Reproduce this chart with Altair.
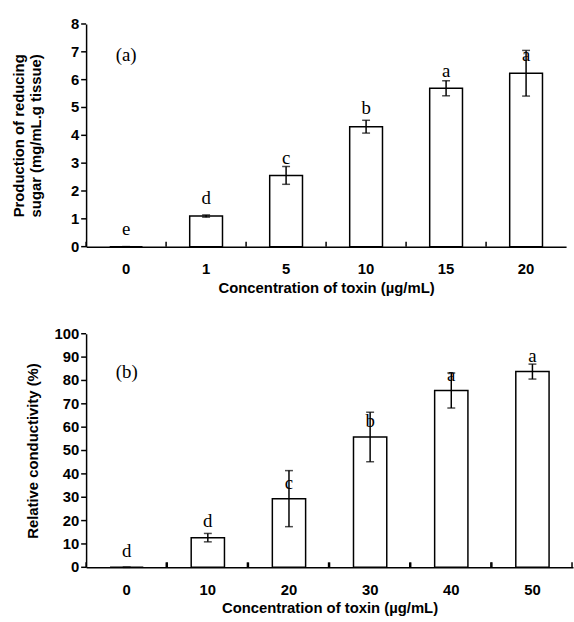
import altair as alt
import pandas as pd

# Panel (a): reducing sugar
conc_a = ["0", "1", "5", "10", "15", "20"]
sugar_mean = [0.0, 1.10, 2.56, 4.31, 5.69, 6.23]
sugar_err = [0.0, 0.04, 0.32, 0.23, 0.27, 0.82]
sugar_letters = ["e", "d", "c", "b", "a", "a"]
sugar_letter_y = [0.64, 1.74, 3.17, 4.98, 6.30, 6.87]
sugar_ticks = [0, 1, 2, 3, 4, 5, 6, 7, 8]

# Panel (b): relative conductivity
conc_b = ["0", "10", "20", "30", "40", "50"]
cond_mean = [0.0, 12.7, 29.4, 55.8, 75.7, 83.8]
cond_err = [0.0, 1.8, 12.0, 10.6, 7.5, 3.2]
cond_letters = ["d", "d", "c", "b", "a", "a"]
cond_letter_y = [7.1, 19.8, 36.0, 62.8, 82.3, 90.4]
cond_ticks = [0, 10, 20, 30, 40, 50, 60, 70, 80, 90, 100]

SANS = "Liberation Sans"
SERIF = "Liberation Serif"


def panel(cats, means, errs, letters, letter_y, yvals, ytitle, tag, tag_y,
          w, h, title_pad, end_tick):
    ymax = yvals[-1]
    df = pd.DataFrame({"conc": cats, "mean": means, "err": errs,
                       "letter": letters, "ly": letter_y})
    df["lo"] = df["mean"] - df["err"]
    df["hi"] = df["mean"] + df["err"]
    df["tag"] = [tag] + [""] * (len(cats) - 1)
    df["tag_y"] = tag_y
    df["zero"] = 0.0
    df["tk"] = ymax * 5.0 / h  # separator tick length (5 px) in data units
    tdf = pd.DataFrame({"v": yvals})

    step = w / len(cats)
    xscale = alt.Scale(paddingInner=0, paddingOuter=0)
    yscale = alt.Scale(domain=[0, ymax], nice=False)
    xaxis = alt.Axis(title="Concentration of toxin (µg/mL)", labelAngle=0,
                     ticks=False, labelPadding=15, titlePadding=4,
                     domainColor="black", domainWidth=1.5,
                     labelFont=SANS, labelFontWeight="bold", labelFontSize=15,
                     labelColor="black", titleFont=SANS, titleFontWeight="bold",
                     titleFontSize=15, titleColor="black")
    yaxis = alt.Axis(title=ytitle, labels=False, ticks=False, grid=False,
                     titlePadding=title_pad,
                     domainColor="black", domainWidth=1.5,
                     titleFont=SANS, titleFontWeight="bold",
                     titleFontSize=15, titleColor="black")

    base = alt.Chart(df)
    xe = alt.X("conc:N", sort=cats, scale=xscale, axis=xaxis)

    def Y(f):
        return alt.Y(f, type="quantitative", scale=yscale, axis=yaxis)

    bars = base.mark_bar(width=alt.RelativeBandSize(0.41), fill="white",
                         stroke="black", strokeWidth=1.5).encode(x=xe, y=Y("mean"))
    err = base.mark_rule(color="black", strokeWidth=1.5).encode(
        x=xe, y=Y("lo"), y2="hi:Q")
    cap_hi = base.mark_tick(color="black", size=8, thickness=1.5,
                            orient="horizontal").encode(x=xe, y=Y("hi"))
    cap_lo = base.mark_tick(color="black", size=8, thickness=1.5,
                            orient="horizontal").encode(x=xe, y=Y("lo"))
    letters_l = base.mark_text(font=SERIF, fontSize=19, color="black",
                               baseline="middle").encode(
        x=xe, y=Y("ly"), text="letter:N")
    tag_l = base.mark_text(font=SERIF, fontSize=19, color="black",
                           baseline="middle").encode(
        x=xe, y=Y("tag_y"), text="tag:N")
    ticks = base.mark_rule(color="black", strokeWidth=1.5,
                           xOffset=-step / 2).encode(
        x=xe, y=Y("zero"), y2="tk:Q")

    # y-axis tick marks and labels, placed through the y scale
    tbase = alt.Chart(tdf)
    ytick_marks = tbase.mark_rule(color="black", strokeWidth=1.5).encode(
        x=alt.value(-5), x2=alt.value(0), y=Y("v"))
    ytick_labels = tbase.mark_text(align="right", baseline="middle", dx=-7,
                                   font=SANS, fontWeight="bold", fontSize=15,
                                   color="black").encode(
        x=alt.value(0), y=Y("v"), text=alt.Text("v:Q", format="d"))

    layers = [bars, err, cap_hi, cap_lo, letters_l, tag_l, ticks,
              ytick_marks, ytick_labels]
    if end_tick:
        layers.append(base.mark_rule(color="black", strokeWidth=1.5,
                                     xOffset=step / 2 - 1).encode(
            x=xe, y=Y("zero"), y2="tk:Q"))

    return alt.layer(*layers).properties(width=w, height=h)


pa = panel(conc_a, sugar_mean, sugar_err, sugar_letters, sugar_letter_y,
           sugar_ticks, ["Production of reducing", "sugar (mg/mL.g tissue)"],
           "(a)", 6.9, 485, 225, 43, False)
pb = panel(conc_b, cond_mean, cond_err, cond_letters, cond_letter_y,
           cond_ticks, "Relative conductivity (%)", "(b)", 83.5,
           492, 236, 46, True)

chart = alt.vconcat(pa, pb, spacing=32).properties(
    padding={"left": 12, "top": 14, "right": 1, "bottom": 0},
    background="white",
).configure_view(strokeWidth=0)

chart.save("out.html", embed_options={"renderer": "svg", "actions": False})
